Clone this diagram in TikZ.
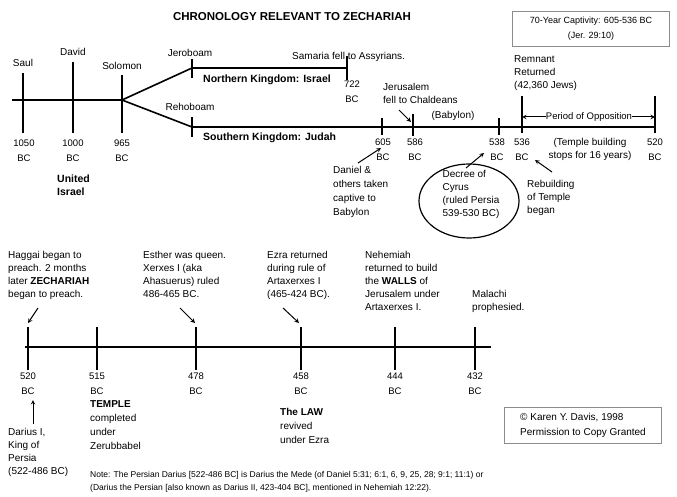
\documentclass[tikz,border=0pt]{standalone}
\usepackage{fontspec}
\setmainfont{Liberation Sans}
\usetikzlibrary{shapes.geometric}

\begin{document}
\begin{tikzpicture}[x=1pt,y=-1pt,>=stealth]
        \tikzstyle{txt}=[inner sep=0pt,font=\fontsize{10}{13}\selectfont,align=left]
        \tikzstyle{bold}=[inner sep=0pt,font=\bfseries\fontsize{10.5}{13}\selectfont,align=left]
        \tikzstyle{date}=[inner sep=0pt,font=\fontsize{9.5}{15}\selectfont,align=center]
        \tikzstyle{line}=[draw, line width=1.6pt]
        \tikzstyle{tick}=[draw, line width=1.6pt]
        \tikzstyle{arr}=[draw, ->, line width=1pt]
        \tikzstyle{infobox}=[draw=black!45, line width=0.9pt, inner sep=0pt, minimum width=157pt, minimum height=35pt]
       \useasboundingbox (0,0) rectangle (677,497);

       % title and captivity box
       \node[font=\bfseries\fontsize{11.5}{14}\selectfont] (title) at (292,17) {CHRONOLOGY RELEVANT TO ZECHARIAH};
       \node[infobox, align=center, font=\fontsize{9}{15}\selectfont] (captivity) at (591,29) {70-Year Captivity: 605-536 BC\\(Jer. 29:10)};

       % united kingdom
       \begin{scope}
         \coordinate (start) at (12,100);
         \coordinate (split) at (122,100);
         \path[line] (start) -- (split);
         \foreach \n/\x/\t in {saul/23/73, david/73/62, solomon/122/75} {
           \coordinate (\n-t) at (\x,\t);
           \coordinate (\n-b) at (\x,133);
           \path[tick] (\n-t) -- (\n-b);
         }
         \node [txt] (saul) at (23,63) {Saul};
         \node [txt] (david) at (73,52) {David};
         \node [txt] (solomon) at (122,66) {Solomon};
         \node [date, anchor=north] (d1050) at (24,140) {1050\\BC};
         \node [date, anchor=north] (d1000) at (73,140) {1000\\BC};
         \node [date, anchor=north] (d965) at (122,140) {965\\BC};
         \node [bold, anchor=north west] (united) at (57,175) {United\\Israel};
       \end{scope}

       % divided kingdom
       \begin{scope}
         \coordinate (israel) at (192,68);
         \coordinate (israel-end) at (347,68);
         \coordinate (judah) at (192,127);
         \coordinate (judah-end) at (655,127);
         \path[line] (split) -- (israel) -- (israel-end);
         \path[line] (split) -- (judah) -- (judah-end);
         \foreach \n/\x/\t/\b in {jero/192/59/78, samaria/347/56/80, reho/192/117/137,
                                  y605/382/118/135, y538/499/118/135, y536/522/96/133, y520/655/96/133} {
           \coordinate (\n-t) at (\x,\t);
           \coordinate (\n-b) at (\x,\b);
           \path[tick] (\n-t) -- (\n-b);
         }
         \coordinate (y586-t) at (413,114);
         \coordinate (y586-b) at (413,136);
         \path[draw, line width=2.8pt] (y586-t) -- (y586-b);

         \node [txt] (jeroboam) at (190,53) {Jeroboam};
         \node [txt, anchor=west] (fall722) at (292,57) {Samaria fell to Assyrians.};
         \node [bold, anchor=west] (north) at (203,80) {Northern Kingdom: Israel};
         \node [date, anchor=north] (d722) at (352,81) {722\\BC};
         \node [txt] (rehoboam) at (190,107) {Rehoboam};
         \node [bold, anchor=west] (south) at (203,138) {Southern Kingdom: Judah};

         \node [date, anchor=north] (d605) at (383,139) {605\\BC};
         \node [date, anchor=north] (d586) at (415,139) {586\\BC};
         \node [date, anchor=north] (d538) at (497,139) {538\\BC};
         \node [date, anchor=north] (d536) at (522,139) {536\\BC};
         \node [date, anchor=north] (d520) at (655,139) {520\\BC};

         \node [txt, anchor=north west] (jerusalem) at (383,83) {Jerusalem\\fell to Chaldeans};
         \node [txt] (babylon) at (453,116) {(Babylon)};
         \coordinate (jer-a) at (399,110);
         \coordinate (jer-b) at (411,122);
         \path[arr] (jer-a) -- (jer-b);

         \node [txt, anchor=north west] (remnant) at (514,55) {Remnant\\Returned\\(42,360 Jews)};
         \node [txt, font=\fontsize{9.5}{14}\selectfont] (opposition) at (589,117) {Period of Opposition};
         \coordinate (opp-l) at (522,117);
         \coordinate (opp-r) at (655,117);
         \path[arr] (opposition.west) -- (opp-l);
         \path[arr] (opposition.east) -- (opp-r);
         \node [txt, align=center, anchor=north] (stops) at (590,138) {(Temple building\\stops for 16 years)};

         \node [txt, font=\fontsize{10}{14}\selectfont, anchor=north west] (daniel) at (333,166) {Daniel \&\\others taken\\captive to\\Babylon};
         \coordinate (dan-a) at (358,163);
         \coordinate (dan-b) at (381,148);
         \path[arr] (dan-a) -- (dan-b);

         \node [ellipse, draw, line width=1.2pt, minimum width=100pt, minimum height=74pt] (cyrus) at (469,201) {};
         \node [txt] (decree) at (471,194) {Decree of\\Cyrus\\(ruled Persia\\539-530 BC)};
         \coordinate (cyr-a) at (466,168);
         \coordinate (cyr-b) at (484,153);
         \path[arr] (cyr-a) -- (cyr-b);

         \node [txt, anchor=north west] (rebuild) at (527,180) {Rebuilding\\of Temple\\began};
         \coordinate (reb-a) at (552,172);
         \coordinate (reb-b) at (535,160);
         \path[arr] (reb-a) -- (reb-b);
       \end{scope}

       % post-exilic period
       \begin{scope}
         \coordinate (post) at (25,347);
         \coordinate (post-end) at (491,347);
         \path[draw, line width=2.2pt] (post) -- (post-end);
         \foreach \n/\x/\yr in {p520/28/520, p515/97/515, p478/196/478, p458/301/458, p444/395/444, p432/475/432} {
           \coordinate (\n-t) at (\x,327);
           \coordinate (\n-b) at (\x,370);
           \path[tick] (\n-t) -- (\n-b);
           \node [date, anchor=north] (\n) at (\x,373) {\yr\\BC};
         }

         \node [txt, anchor=north west] (haggai) at (8,251) {Haggai began to\\preach. 2 months\\later \textbf{ZECHARIAH}\\began to preach.};
         \coordinate (hag-a) at (38,308);
         \coordinate (hag-b) at (28,323);
         \path[arr] (hag-a) -- (hag-b);

         \node [txt, anchor=north west] (esther) at (143,251) {Esther was queen.\\Xerxes I (aka\\Ahasuerus) ruled\\486-465 BC.};
         \coordinate (est-a) at (180,308);
         \coordinate (est-b) at (195,323);
         \path[arr] (est-a) -- (est-b);

         \node [txt, anchor=north west] (ezra) at (267,251) {Ezra returned\\during rule of\\Artaxerxes I\\(465-424 BC).};
         \coordinate (ezr-a) at (283,308);
         \coordinate (ezr-b) at (299,323);
         \path[arr] (ezr-a) -- (ezr-b);

         \node [txt, anchor=north west] (nehemiah) at (365,251) {Nehemiah\\returned to build\\the \textbf{WALLS} of\\Jerusalem under\\Artaxerxes I.};
         \node [txt, anchor=north west] (malachi) at (472,290) {Malachi\\prophesied.};

         \node [txt, anchor=north west] (darius) at (8,428) {Darius I,\\King of\\Persia\\(522-486 BC)};
         \coordinate (dar-a) at (33,424);
         \coordinate (dar-b) at (33,400);
         \path[arr] (dar-a) -- (dar-b);

         \node [txt, font=\fontsize{10}{14}\selectfont, anchor=north west] (temple) at (90,400) {\textbf{TEMPLE}\\completed\\under\\Zerubbabel};
         \node [txt, font=\fontsize{10}{14}\selectfont, anchor=north west] (law) at (280,408) {\textbf{The LAW}\\revived\\under Ezra};

         \node [infobox, minimum height=36pt, align=left, font=\fontsize{10}{15}\selectfont] (copyright) at (583,425) {\textcopyright{} Karen Y. Davis, 1998\\Permission to Copy Granted};

         \node [inner sep=0pt, align=left, anchor=north west, font=\fontsize{8.5}{13}\selectfont] (note) at (90,471) {Note: The Persian Darius [522-486 BC] is Darius the Mede (of Daniel 5:31; 6:1, 6, 9, 25, 28; 9:1; 11:1) or\\(Darius the Persian [also known as Darius II, 423-404 BC], mentioned in Nehemiah 12:22).};
       \end{scope}
      \end{tikzpicture}
\end{document}
